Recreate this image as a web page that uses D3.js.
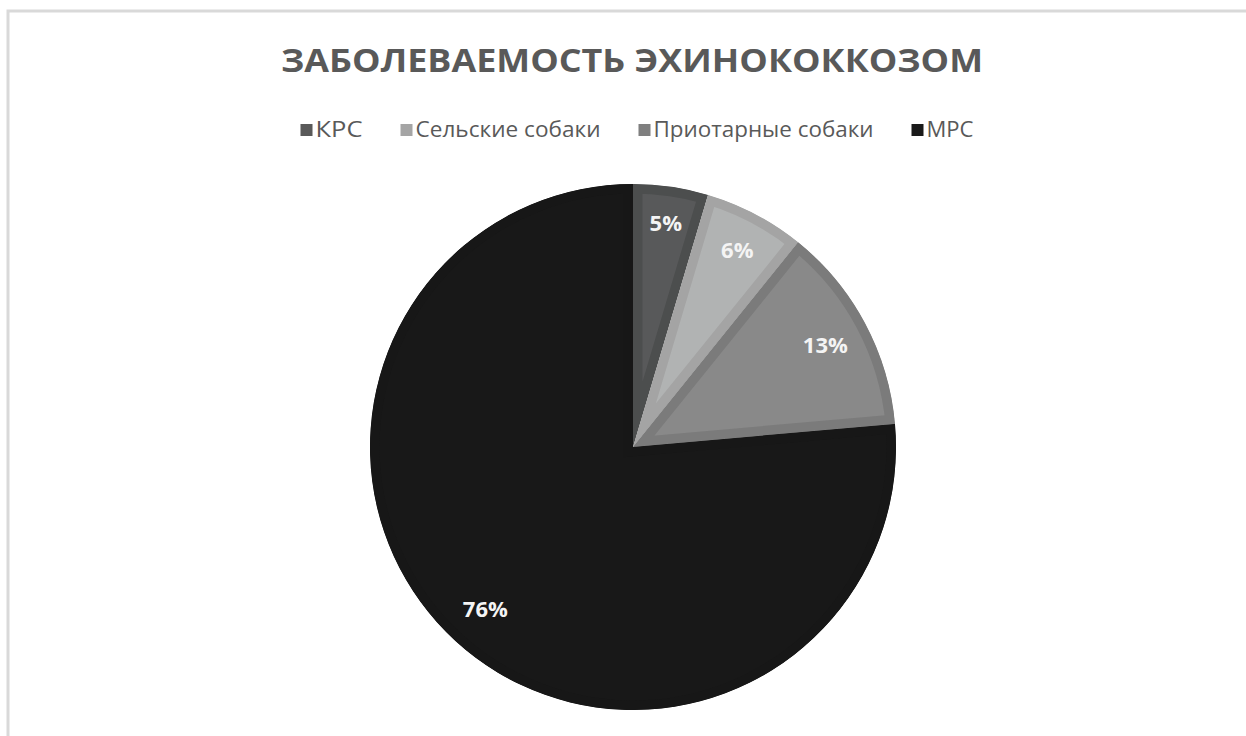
<!DOCTYPE html>
<html><head><meta charset="utf-8">
<script src="https://cdn.jsdelivr.net/npm/d3@7"></script>
<style>body{margin:0;background:#fff}svg{display:block}</style>
</head><body><svg id="c" width="1246" height="736"></svg>
<script>
const title = "ЗАБОЛЕВАЕМОСТЬ ЭХИНОКОККОЗОМ";
const categories = ["КРС", "Сельские собаки", "Приотарные собаки", "МРС"];
const values = [4.6, 6.2, 12.8, 76.4];
const legendColors = ["#595959", "#a5a5a5", "#7f7f7f", "#1a1a1a"];
const fillColors = ["#58595a", "#b1b3b3", "#898989", "#181818"];
const bandColors = ["#4c4e4e", "#a4a4a4", "#7b7b7b", "#171717"];

const svg = d3.select("#c");
svg.append("rect").attr("x", 8).attr("y", 11).attr("width", 1400).attr("height", 900)
  .attr("fill", "none").attr("stroke", "#d9d9d9").attr("stroke-width", 3);

svg.append("text").attr("x", 632).attr("y", 72).attr("text-anchor", "middle")
  .attr("font-family", "Open Sans").attr("font-weight", "bold").attr("font-size", 33)
  .attr("fill", "#595959").attr("textLength", 702).attr("lengthAdjust", "spacingAndGlyphs").text(title);

// legend
const legendWidths = [47, 185, 220, 47];
const lg = svg.append("g");
let x = 0;
categories.forEach((c, i) => {
  const g = lg.append("g").attr("transform", `translate(${x},0)`);
  g.append("rect").attr("x", 0).attr("y", -6).attr("width", 12).attr("height", 12).attr("fill", legendColors[i]);
  g.append("text").attr("x", 15).attr("y", 7).attr("font-family", "Open Sans")
    .attr("font-size", 21).attr("fill", "#595959")
    .attr("textLength", legendWidths[i]).attr("lengthAdjust", "spacingAndGlyphs").text(c);
  x += 15 + legendWidths[i] + 38;
});
x -= 38;
lg.attr("transform", `translate(${637 - x / 2},130)`);

// pie
const cx = 633, cy = 447, r = 263;
const pie = d3.pie().sort(null).value(d => d)(values);
const arc = d3.arc().innerRadius(0).outerRadius(r);
const total = d3.sum(values);
const pg = svg.append("g").attr("transform", `translate(${cx},${cy})`);
const defs = svg.append("defs");
pie.forEach((p, i) => {
  defs.append("clipPath").attr("id", "cl" + i).append("path").attr("d", arc(p));
  pg.append("path").attr("d", arc(p)).attr("fill", fillColors[i])
    .attr("stroke", bandColors[i]).attr("stroke-width", 19).attr("stroke-linejoin", "miter")
    .attr("clip-path", `url(#cl${i})`);
});
pie.forEach((p, i) => {
  const a = (p.startAngle + p.endAngle) / 2;
  const t = pg.append("text").attr("text-anchor", "middle").attr("font-family", "Open Sans")
    .attr("font-weight", "bold").attr("font-size", 22).attr("fill", "#f4f4f4")
    .text(Math.round(values[i] / total * 100) + "%");
  const bb = t.node().getBBox();
  const ext = bb.height / 2 * Math.abs(Math.cos(a)) + bb.width / 2 * Math.abs(Math.sin(a));
  const d = r - 18 - ext;
  const lx = d * Math.sin(a), ly = -d * Math.cos(a);
  t.attr("x", lx).attr("y", ly - (bb.y + bb.height / 2));
});
</script></body></html>
